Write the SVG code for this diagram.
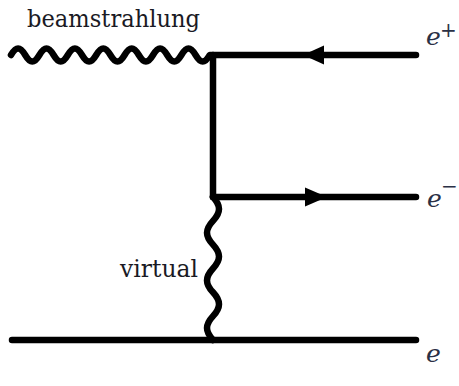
<svg xmlns="http://www.w3.org/2000/svg" width="459" height="386" viewBox="0 0 459 386">
  <style>
    .line { fill: none; stroke: #000; stroke-width: 6.5; stroke-linecap: round; stroke-linejoin: round; }
    .arrow { fill: #000; stroke: none; }
    .label { font-family: "DejaVu Serif", serif; font-size: 24px; fill: #1a1a24; }
    .particle { font-family: "DejaVu Serif", serif; font-style: italic; font-size: 25px; fill: #2a3045; }
    .sup { font-family: "DejaVu Serif", serif; font-size: 20px; fill: #2a3045; }
  </style>
  <rect width="459" height="386" fill="#fff"/>

  <g id="connectors">
    <!-- beamstrahlung photon -->
    <path id="photon-beam" class="line" d="M11,55
      c5.17,-8.7 9.03,-8.7 14.2,0 c5.17,8.7 9.03,8.7 14.2,0
      c5.17,-8.7 9.03,-8.7 14.2,0 c5.17,8.7 9.03,8.7 14.2,0
      c5.17,-8.7 9.03,-8.7 14.2,0 c5.17,8.7 9.03,8.7 14.2,0
      c5.17,-8.7 9.03,-8.7 14.2,0 c5.17,8.7 9.03,8.7 14.2,0
      c5.17,-8.7 9.03,-8.7 14.2,0 c5.17,8.7 9.03,8.7 14.2,0
      c5.17,-8.7 9.03,-8.7 14.2,0 c5.17,8.7 9.03,8.7 14.2,0
      c5.17,-8.7 9.03,-8.7 14.2,0 c5.17,8.7 9.03,8.7 14.2,0
      L213,55"/>
    <!-- positron line and fermion propagator -->
    <path id="positron" class="line" d="M416,55 H213 V197"/>
    <!-- outgoing electron -->
    <path id="electron-out" class="line" d="M213,197 H416"/>
    <!-- virtual photon -->
    <path id="photon-virtual" class="line" d="M213,197
      c8,8.68 8,15.16 0,23.83 c-8,8.68 -8,15.16 0,23.83
      c8,8.68 8,15.16 0,23.83 c-8,8.68 -8,15.16 0,23.83
      c8,8.68 8,15.16 0,23.83 c-8,8.68 -8,15.16 0,23.83"/>
    <!-- spectator electron -->
    <path id="electron-beam" class="line" d="M12,340 H416"/>
    <!-- fermion flow arrows -->
    <polygon class="arrow" points="303,55 324,45.5 324,64.5"/>
    <polygon class="arrow" points="327,197 305,187.5 305,206.5"/>
  </g>

  <g id="label-beamstrahlung">
    <text class="label" x="27" y="27" textLength="173" lengthAdjust="spacingAndGlyphs">beamstrahlung</text>
  </g>
  <g id="label-virtual">
    <text class="label" x="120" y="277" textLength="78" lengthAdjust="spacingAndGlyphs">virtual</text>
  </g>
  <g id="label-eplus">
    <text class="particle" x="426" y="45">e</text>
    <text class="sup" x="440" y="37">+</text>
  </g>
  <g id="label-eminus">
    <text class="particle" x="427" y="207">e</text>
    <text class="sup" x="441" y="193">−</text>
  </g>
  <g id="label-e">
    <text class="particle" x="426" y="362">e</text>
  </g>
</svg>
